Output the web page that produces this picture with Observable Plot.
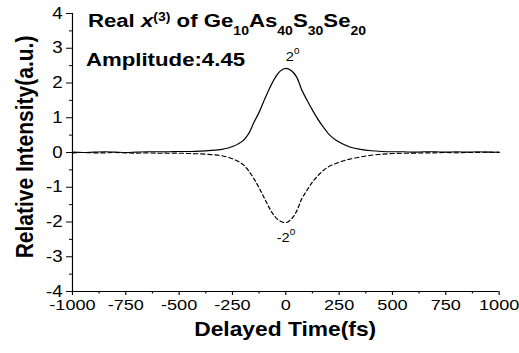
<!DOCTYPE html>
<html><head><meta charset="utf-8">
<script src="https://cdn.jsdelivr.net/npm/d3@7"></script>
<script src="https://cdn.jsdelivr.net/npm/@observablehq/plot@0.6"></script>
<style>body{margin:0;background:#fff;} #chart svg{display:block}</style>
</head><body><div id="chart"></div>
<script>
// Delay times (fs)
const times = [-1000,-950,-900,-850,-800,-750,-700,-650,-600,-550,-500,-450,-400,-350,-300,
  -275,-250,-225,-200,-175,-150,-125,-100,-75,-50,-25,0,25,50,75,100,125,150,175,200,225,250,275,300,
  350,400,450,500,550,600,650,700,750,800,850,900,950,1000];
// 2° signal (solid)
const pos2 = [0.01,0.00,0.01,0.02,0.01,0.00,0.01,0.02,0.02,0.02,0.03,0.03,0.04,0.06,0.09,
  0.12,0.17,0.24,0.34,0.53,0.86,1.16,1.52,1.86,2.15,2.35,2.42,2.36,2.18,1.80,1.50,1.22,0.96,0.74,0.54,0.40,0.30,0.22,0.16,
  0.09,0.05,0.03,0.02,0.02,0.01,0.02,0.02,0.01,0.02,0.01,0.02,0.01,0.01];
// -2° signal (dashed)
const neg2 = [-0.01,0.00,-0.01,-0.01,0.00,-0.01,-0.02,-0.01,-0.02,-0.02,-0.02,-0.03,-0.04,-0.06,-0.09,
  -0.13,-0.18,-0.25,-0.35,-0.52,-0.75,-1.02,-1.32,-1.62,-1.85,-1.98,-2.02,-1.92,-1.70,-1.33,-1.08,-0.85,-0.67,-0.52,-0.41,-0.34,-0.28,-0.23,-0.19,
  -0.13,-0.08,-0.05,-0.03,-0.02,-0.02,-0.01,-0.01,0.00,-0.01,0.00,0.00,0.01,0.00];

const xTicks = [-1000,-750,-500,-250,0,250,500,750,1000];
const xMinor = [-875,-625,-375,-125,125,375,625,875];
const yTicks = [-4,-3,-2,-1,0,1,2,3,4];
const yMinor = [-3.5,-2.5,-1.5,-0.5,0.5,1.5,2.5,3.5];
const xLabel = "Delayed Time(fs)";
const yLabel = "Relative Intensity(a.u.)";
const amplitudeText = "Amplitude:4.45";
const titleParts = ["Real ", "x", "(3)", " of Ge", "10", "As", "40", "S", "30", "Se", "20"];
const titleRoles = ["n", "i", "sup", "n", "sub", "n", "sub", "n", "sub", "n", "sub"];
const peakBase = ["2", "-2"];
const peakSup = ["0", "0"];
const peakT = [3, -40];
const peakV = [2.63, -2.59];

const W = 444, H = 353, OUTW = 519;
const solid = times.map((t, i) => ({t, v: pos2[i]}));
const dashed = times.map((t, i) => ({t, v: neg2[i]}));
const fmt = d => String(d);

const plot = Plot.plot({
  width: W, height: H,
  marginLeft: 61.5, marginRight: 17.5, marginTop: 13, marginBottom: 62,
  x: {domain: [-1000, 1000]},
  y: {domain: [-4, 4]},
  style: {fontFamily: "'Liberation Sans', Arial, sans-serif", background: "white", color: "black"},
  marks: [
    Plot.ruleX([-1000], {stroke: "black", strokeWidth: 1}),
    Plot.ruleY([-4], {stroke: "black", strokeWidth: 1}),
    Plot.axisX({ticks: xTicks, tickSize: 4, tickPadding: 3, tickFormat: fmt, fontSize: 15.5, label: null}),
    Plot.axisX({ticks: xMinor, tickSize: 2.5, text: null, label: null}),
    Plot.axisY({ticks: yTicks, tickSize: 5, tickPadding: 3.5, tickFormat: fmt, fontSize: 16, label: null}),
    Plot.axisY({ticks: yMinor, tickSize: 2.5, text: null, label: null}),
    Plot.line(solid, {x: "t", y: "v", stroke: "black", strokeWidth: 1.1, curve: "catmull-rom"}),
    Plot.line(dashed, {x: "t", y: "v", stroke: "black", strokeWidth: 1.1, strokeDasharray: "3.5,2.6", curve: "catmull-rom"})
  ]
});

const xs = plot.scale("x"), ys = plot.scale("y");
const svg = d3.select(plot);
const ff = "'Liberation Sans', Arial, sans-serif";

// Title
const title = svg.append("text").attr("x", xs.apply(-925)).attr("y", ys.apply(3.6))
  .attr("text-anchor", "start")
  .attr("font-family", ff).attr("font-size", 19).attr("font-weight", "bold").attr("fill", "black");
let shift = 0;
titleParts.forEach((p, i) => {
  const r = titleRoles[i];
  const target = r === "sup" ? -6 : r === "sub" ? 8 : 0;
  const ts = title.append("tspan").attr("dy", target - shift).text(p);
  shift = target;
  if (r === "i") ts.attr("font-style", "italic");
  if (r === "sup") ts.attr("font-size", 12);
  if (r === "sub") ts.attr("font-size", 12);
});

// Amplitude
svg.append("text").attr("x", xs.apply(-934)).attr("y", ys.apply(2.48))
  .attr("text-anchor", "start")
  .attr("font-family", ff).attr("font-size", 19).attr("font-weight", "bold").attr("fill", "black")
  .text(amplitudeText);

// Peak labels
peakBase.forEach((b, i) => {
  const t = svg.append("text").attr("x", xs.apply(peakT[i])).attr("y", ys.apply(peakV[i]))
    .attr("text-anchor", "start")
    .attr("font-family", ff).attr("font-size", 12.5).attr("fill", "black");
  t.append("tspan").text(b);
  t.append("tspan").attr("dy", -7).attr("font-size", 8.5).text(peakSup[i]);
});

// Axis labels
svg.append("text").attr("x", (61.5 + W - 17.5) / 2).attr("y", 336)
  .attr("text-anchor", "middle").attr("font-family", ff).attr("font-size", 19.5)
  .attr("font-weight", "bold").attr("fill", "black").text(xLabel);
svg.append("text").attr("transform", `translate(28.2,147) rotate(-90)`)
  .attr("text-anchor", "middle").attr("font-family", ff).attr("font-size", 21)
  .attr("font-weight", "bold").attr("fill", "black").text(yLabel);

// Horizontal stretch to match the reference aspect
plot.setAttribute("viewBox", `0 0 ${W} ${H}`);
plot.setAttribute("preserveAspectRatio", "none");
plot.setAttribute("width", OUTW);
plot.setAttribute("height", H);
plot.style.width = OUTW + "px";
plot.style.height = H + "px";
plot.style.maxWidth = "none";

document.getElementById("chart").appendChild(plot);
</script>
</body></html>
